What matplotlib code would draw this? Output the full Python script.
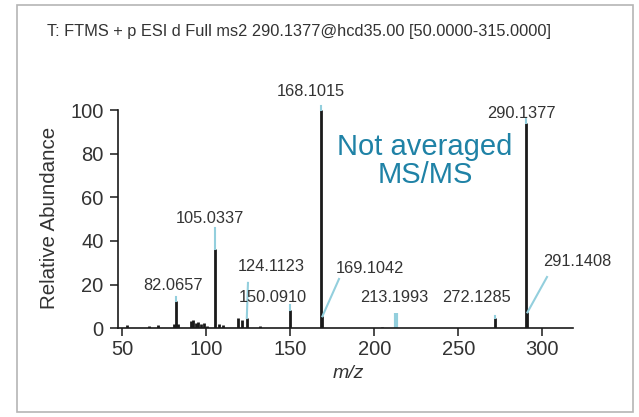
import matplotlib
matplotlib.use("Agg")
import matplotlib.pyplot as plt
from matplotlib.patches import Rectangle

plt.rcParams['font.family'] = ['Liberation Sans', 'DejaVu Sans']

# spectrum peaks (m/z, relative abundance)
mz = [52.8, 65.9, 71.2, 80.8, 82.0657, 83.2, 91.0, 92.0, 94.0, 95.3, 97.0, 98.9, 100.7,
      105.0337, 107.8, 109.8, 118.8, 121.4, 124.1123, 131.8, 150.0910, 168.1015,
      169.1042, 204.6, 272.1285, 290.1377, 291.1408]
abundance = [1.5, 1.0, 1.5, 2.0, 12.5, 2.0, 3.5, 4.0, 2.5, 3.0, 2.0, 2.5, 1.0,
             36.5, 2.0, 1.5, 4.9, 3.8, 4.7, 1.2, 8.5, 100.0,
             5.5, 0.7, 4.7, 94.0, 7.3]

# highlighted peak drawn in light blue
blue_mz = [213.1993]
blue_abundance = [6.9]

# labelled peaks
label_mz = [168.1015, 290.1377, 105.0337, 82.0657, 124.1123, 150.0910,
            169.1042, 213.1993, 272.1285, 291.1408]
label_h = [100.0, 94.0, 36.5, 12.5, 4.7, 8.5, 5.5, 6.9, 4.7, 7.3]
label_text = ['168.1015', '290.1377', '105.0337', '82.0657', '124.1123', '150.0910',
              '169.1042', '213.1993', '272.1285', '291.1408']
# text centre of each label (data coords)
label_x = [162.5, 287.3, 101.9, 80.2, 138.5, 139.7, 197.4, 211.7, 261.1, 320.6]
label_y = [108.3, 98.6, 50.5, 19.8, 28.1, 14.3, 27.2, 13.9, 13.9, 30.4]
# upper end of the connector line from each label to its peak (None = no line)
conn_x = [168.1015, 290.1377, 105.0337, 82.0657, 124.8, 150.0910, 179.0, None, 272.1285, 302.8]
conn_y = [101.8, 96.4, 45.9, 14.3, 20.8, 10.7, 22.6, None, 5.6, 23.5]

black = '#1a1a1a'
light_blue = '#93cfdd'
text_col = '#333333'

fig = plt.figure(figsize=(6.39, 4.17), dpi=100)
ax = fig.add_axes([118 / 639, 1 - 328.3 / 417, (572.7 - 118) / 639, 218.3 / 417])

ax.vlines(mz, 0, abundance, color=black, lw=2.0)
ax.vlines(blue_mz, 0, blue_abundance, color=light_blue, lw=3.0)

for i in range(len(label_text)):
    if conn_x[i] is not None:
        ax.plot([conn_x[i], label_mz[i]], [conn_y[i], label_h[i]], color=light_blue,
                lw=1.5, clip_on=False, zorder=3)
    ax.text(label_x[i], label_y[i], label_text[i], ha='center', va='center',
            fontsize=11.8, color=text_col)

ax.text(230.2, 76.6, 'Not averaged\nMS/MS', ha='center', va='center', fontsize=21,
        color='#1f82a6', linespacing=1.0)

ax.set_xlim(47.44, 318.1)
ax.set_ylim(0, 100)
ax.set_xticks([50, 100, 150, 200, 250, 300])
ax.set_yticks([0, 20, 40, 60, 80, 100])
for s in ['top', 'right']:
    ax.spines[s].set_visible(False)
for s in ['left', 'bottom']:
    ax.spines[s].set_linewidth(1.2)
    ax.spines[s].set_color(black)
ax.tick_params(axis='both', labelsize=14.5, colors=black, labelcolor=text_col,
               width=1.1, length=5.5)
ax.tick_params(axis='y', pad=5)
ax.tick_params(axis='x', pad=3)

fig.text(50 / 639, 1 - 218 / 417, 'Relative Abundance', rotation=90, ha='center',
         va='center', fontsize=14.8, color=text_col)
fig.text(348 / 639, 1 - 373 / 417, 'm/z', style='italic', ha='center', va='center',
         fontsize=14, color=text_col)
fig.text(47 / 639, 1 - 36 / 417, 'T: FTMS + p ESI d Full ms2 290.1377@hcd35.00 [50.0000-315.0000]',
         ha='left', va='baseline', fontsize=11.8, color=text_col)

# grey frame around the figure
fig.add_artist(Rectangle((17 / 639, 5 / 417), 616 / 639, 407 / 417, transform=fig.transFigure,
                         fill=False, edgecolor='#b5b5b5', lw=1.2))

fig.savefig('out.png', dpi=100)
